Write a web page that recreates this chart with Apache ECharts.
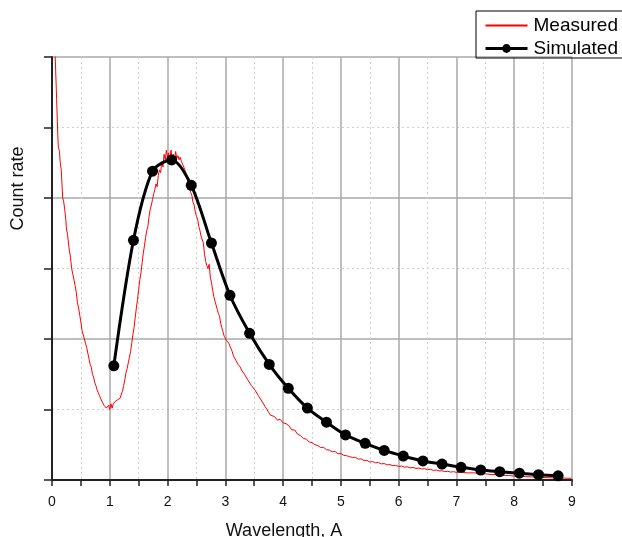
<!DOCTYPE html>
<html>
<head>
<meta charset="utf-8">
<script src="https://cdn.jsdelivr.net/npm/echarts@6/dist/echarts.min.js"></script>
<style>
  html, body { margin: 0; padding: 0; background: #fff; }
  #chart { width: 622px; height: 537px; }
</style>
</head>
<body>
<div id="chart"></div>
<script>
// Measured spectrum (wavelength in A, count rate in arbitrary units)
var measuredWavelength = [
  0.03, 0.06, 0.08, 0.10, 0.11, 0.13, 0.14, 0.16, 0.17, 0.185, 0.20, 0.22, 0.24, 0.25, 0.27, 0.29, 0.30, 0.32, 0.34, 0.36,
  0.38, 0.40, 0.42, 0.44, 0.46, 0.48, 0.50, 0.52, 0.54, 0.56, 0.58, 0.60, 0.62, 0.64, 0.66, 0.68, 0.70, 0.72, 0.74, 0.76,
  0.78, 0.80, 0.82, 0.84, 0.86, 0.88, 0.90, 0.92, 0.94, 0.96, 0.98, 1.00, 1.02, 1.04, 1.06, 1.08, 1.10, 1.12, 1.14, 1.16,
  1.18, 1.20, 1.22, 1.24, 1.26, 1.28, 1.30, 1.32, 1.34, 1.36, 1.38, 1.40, 1.42, 1.44, 1.46, 1.48, 1.50, 1.52, 1.54, 1.56,
  1.58, 1.60, 1.62, 1.64, 1.66, 1.68, 1.70, 1.72, 1.74, 1.76, 1.78, 1.80, 1.82, 1.84, 1.86, 1.88, 1.90, 1.92, 1.94, 1.96,
  1.98, 2.00, 2.02, 2.04, 2.06, 2.08, 2.10, 2.12, 2.14, 2.16, 2.18, 2.20, 2.22, 2.24, 2.26, 2.28, 2.30, 2.32, 2.34, 2.36,
  2.38, 2.40, 2.42, 2.44, 2.46, 2.48, 2.50, 2.52, 2.54, 2.56, 2.58, 2.60, 2.62, 2.64, 2.66, 2.68, 2.70, 2.72, 2.74, 2.76,
  2.78, 2.80, 2.82, 2.84, 2.86, 2.88, 2.90, 2.92, 2.94, 2.96, 2.98, 3.00, 3.02, 3.04, 3.06, 3.08, 3.10, 3.12, 3.14, 3.16,
  3.18, 3.20, 3.22, 3.24, 3.26, 3.28, 3.30, 3.33, 3.36, 3.39, 3.42, 3.45, 3.48, 3.51, 3.54, 3.57, 3.60, 3.63, 3.66, 3.69,
  3.72, 3.75, 3.78, 3.81, 3.85, 3.90, 3.95, 4.00, 4.05, 4.10, 4.15, 4.20, 4.25, 4.30, 4.35, 4.40, 4.45, 4.50, 4.55, 4.60,
  4.65, 4.70, 4.75, 4.80, 4.85, 4.90, 4.95, 5.00, 5.05, 5.10, 5.15, 5.20, 5.25, 5.30, 5.35, 5.40, 5.45, 5.50, 5.55, 5.60,
  5.65, 5.70, 5.75, 5.80, 5.85, 5.90, 5.95, 6.00, 6.05, 6.10, 6.15, 6.20, 6.25, 6.30, 6.35, 6.40, 6.45, 6.50, 6.55, 6.60,
  6.65, 6.70, 6.75, 6.80, 6.85, 6.90, 6.95, 7.00, 7.10, 7.20, 7.30, 7.40, 7.50, 7.60, 7.70, 7.80, 7.90, 8.00, 8.10, 8.20,
  8.30, 8.40, 8.50, 8.60, 8.70, 8.80, 8.90, 8.99
];
var measuredCount = [
  3.30, 2.95, 2.70, 2.45, 2.36, 2.33, 2.26, 2.20, 2.12, 2.00, 1.98, 1.92, 1.84, 1.78, 1.74, 1.66, 1.63, 1.58, 1.50, 1.46,
  1.42, 1.38, 1.33, 1.26, 1.22, 1.17, 1.12, 1.06, 1.05, 1.00, 0.97, 0.94, 0.90, 0.86, 0.82, 0.80, 0.75, 0.73, 0.69, 0.67,
  0.64, 0.62, 0.60, 0.58, 0.56, 0.55, 0.53, 0.54, 0.51, 0.50, 0.53, 0.50, 0.54, 0.51, 0.54, 0.53, 0.56, 0.55, 0.57, 0.58,
  0.58, 0.61, 0.63, 0.67, 0.71, 0.76, 0.79, 0.83, 0.87, 0.91, 0.97, 1.03, 1.08, 1.15, 1.22, 1.28, 1.35, 1.42, 1.47, 1.54,
  1.61, 1.66, 1.72, 1.77, 1.80, 1.87, 1.92, 1.95, 1.99, 2.03, 2.06, 2.10, 2.08, 2.16, 2.20, 2.18, 2.26, 2.22, 2.31, 2.27,
  2.34, 2.29, 2.32, 2.27, 2.34, 2.28, 2.31, 2.26, 2.33, 2.28, 2.30, 2.27, 2.29, 2.26, 2.25, 2.22, 2.20, 2.17, 2.14, 2.10,
  2.07, 2.04, 2.02, 1.97, 1.95, 1.90, 1.87, 1.85, 1.80, 1.77, 1.73, 1.72, 1.68, 1.60, 1.55, 1.52, 1.50, 1.53, 1.44, 1.40,
  1.35, 1.30, 1.27, 1.24, 1.21, 1.18, 1.16, 1.11, 1.08, 1.05, 1.02, 1.01, 0.99, 1.00, 0.97, 0.95, 0.93, 0.91, 0.88, 0.87,
  0.85, 0.84, 0.82, 0.81, 0.80, 0.78, 0.78, 0.75, 0.75, 0.71, 0.71, 0.67, 0.68, 0.64, 0.64, 0.60, 0.60, 0.56, 0.56, 0.52,
  0.52, 0.48, 0.46, 0.455, 0.45, 0.425, 0.43, 0.405, 0.40, 0.385, 0.355, 0.355, 0.325, 0.315, 0.295, 0.29, 0.27, 0.265, 0.25, 0.245,
  0.23, 0.232, 0.215, 0.212, 0.20, 0.202, 0.186, 0.188, 0.175, 0.172, 0.166, 0.16, 0.161, 0.148, 0.15, 0.138, 0.14, 0.128, 0.131, 0.122,
  0.124, 0.114, 0.117, 0.107, 0.109, 0.101, 0.104, 0.096, 0.099, 0.091, 0.094, 0.086, 0.089, 0.082, 0.085, 0.078, 0.08, 0.073, 0.076, 0.068,
  0.071, 0.064, 0.066, 0.059, 0.062, 0.056, 0.059, 0.054, 0.054, 0.05, 0.051, 0.045, 0.044, 0.039, 0.038, 0.033, 0.032, 0.028, 0.027, 0.024,
  0.022, 0.02, 0.018, 0.016, 0.015, 0.014, 0.013, 0.012
];

// Simulated spectrum, sampled points
var simWavelength = [1.07, 1.41, 1.74, 2.07, 2.41, 2.76, 3.08, 3.42, 3.76, 4.09, 4.42, 4.75,
                     5.08, 5.42, 5.75, 6.08, 6.42, 6.75, 7.08, 7.42, 7.75, 8.09, 8.42, 8.76];
var simCount = [0.81, 1.70, 2.19, 2.27, 2.09, 1.68, 1.31, 1.04, 0.82, 0.65, 0.51, 0.41,
                0.32, 0.26, 0.21, 0.17, 0.135, 0.113, 0.09, 0.071, 0.059, 0.048, 0.038, 0.030];

function pairs(xs, ys) {
  return xs.map(function (x, i) { return [x, ys[i]]; });
}

var font = 'Liberation Sans, Arial, sans-serif';
var chart = echarts.init(document.getElementById('chart'), null, { renderer: 'canvas' });

chart.setOption({
  animation: false,
  backgroundColor: '#ffffff',
  textStyle: { fontFamily: font },
  grid: { left: 52, right: 50, top: 57, bottom: 57, containLabel: false, outerBoundsMode: 'none' },
  legend: {
    orient: 'vertical',
    left: 476,
    top: 11,
    padding: [5, 30, 0, 8],
    itemGap: 4,
    itemWidth: 42,
    itemHeight: 11,
    borderColor: '#000',
    borderWidth: 1,
    borderRadius: 0,
    textStyle: { fontFamily: font, fontSize: 19, color: '#000', padding: [0, 0, 0, 1] },
    data: [
      { name: 'Measured', itemStyle: { color: 'rgba(0,0,0,0)', borderWidth: 0 } },
      { name: 'Simulated', lineStyle: { color: '#000', width: 3 } }
    ]
  },
  xAxis: {
    type: 'value',
    min: 0,
    max: 9,
    interval: 1,
    name: 'Wavelength, A',
    nameLocation: 'middle',
    nameGap: 42,
    nameTextStyle: { fontFamily: font, fontSize: 18, color: '#111', padding: [0, 56, 0, 0] },
    axisLine: { onZero: false, lineStyle: { color: '#222', width: 2 } },
    axisTick: { show: true, inside: false, length: 6, lineStyle: { color: '#222', width: 1.5 } },
    minorTick: { show: true, splitNumber: 2, length: 6, lineStyle: { color: '#222', width: 1.5 } },
    axisLabel: { fontFamily: font, fontSize: 14, color: '#111', margin: 15 },
    splitLine: { show: true, lineStyle: { color: '#a8a8a8', width: 1.5 } },
    minorSplitLine: { show: true, lineStyle: { color: '#cfcfcf', width: 1, type: [2, 3] } }
  },
  yAxis: {
    type: 'value',
    min: 0,
    max: 3,
    interval: 1,
    name: 'Count rate',
    nameLocation: 'middle',
    nameGap: 25,
    nameTextStyle: { fontFamily: font, fontSize: 18, color: '#111', padding: [0, 0, 0, 160] },
    axisLine: { show: true, onZero: false, lineStyle: { color: '#222', width: 2 } },
    axisTick: { show: true, inside: false, length: 8, lineStyle: { color: '#222', width: 1.5 } },
    minorTick: { show: true, splitNumber: 2, length: 8, lineStyle: { color: '#222', width: 1.5 } },
    axisLabel: { show: false },
    splitLine: { show: true, lineStyle: { color: '#a8a8a8', width: 1.5 } },
    minorSplitLine: { show: true, lineStyle: { color: '#cfcfcf', width: 1, type: [2, 3] } }
  },
  series: [
    {
      name: 'Measured',
      type: 'line',
      data: pairs(measuredWavelength, measuredCount),
      showSymbol: false,
      symbol: 'none',
      clip: true,
      lineStyle: { color: '#ff0000', width: 1 },
      itemStyle: { color: '#ff0000' },
      z: 2
    },
    {
      name: 'Simulated',
      type: 'line',
      data: pairs(simWavelength, simCount),
      smooth: 0.3,
      symbol: 'circle',
      symbolSize: 11,
      lineStyle: { color: '#000', width: 3 },
      itemStyle: { color: '#000' },
      z: 3
    }
  ]
});
</script>
</body>
</html>
